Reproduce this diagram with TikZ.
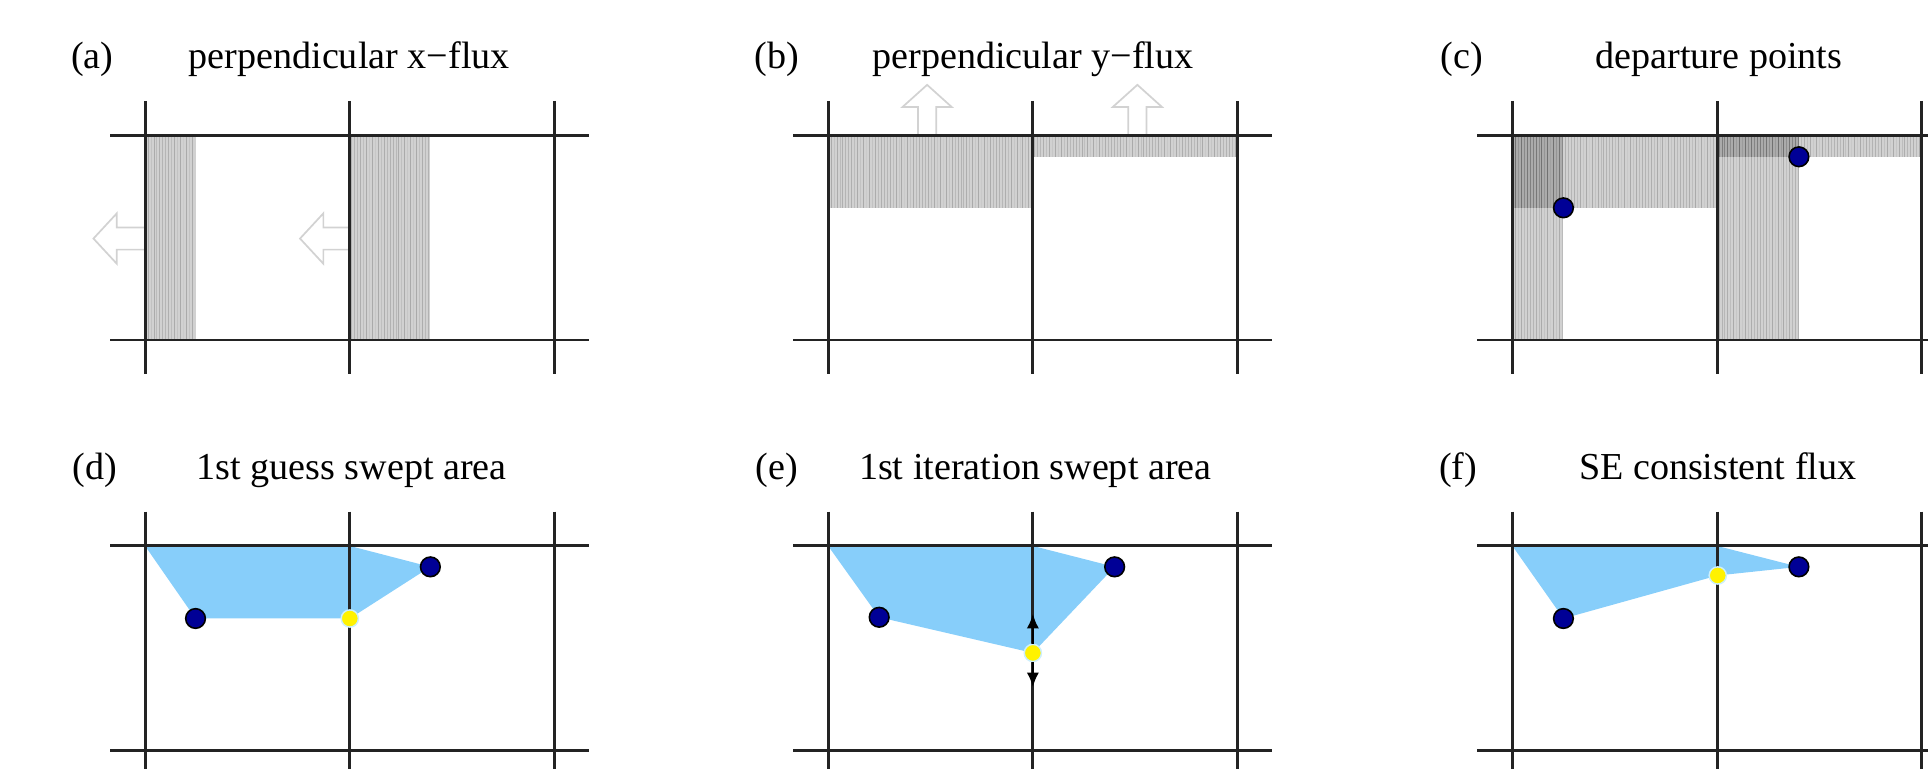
\documentclass[tikz,border=0pt]{standalone}
\usepackage{fontspec}
\setmainfont{Liberation Serif}
\usetikzlibrary{arrows.meta}
\definecolor{sweep}{RGB}{135,206,250}
\definecolor{dotblue}{RGB}{0,0,150}
\definecolor{gridc}{RGB}{35,35,35}
\tikzset{
 gridline/.style={draw=gridc, line width=2.4pt},
 lbl/.style={font=\fontsize{31}{36}\selectfont, anchor=base, inner sep=0pt},
 navydot/.style={circle, fill=dotblue, draw=black, line width=1.3pt, minimum size=16pt, inner sep=0pt},
 yeldot/.style={circle, fill=yellow, draw=cyan!20, line width=1.2pt, minimum size=14pt, inner sep=0pt},
 hollow/.style={draw=gray!35, fill=white, line width=1.4pt, line join=miter},
 sweptarea/.style={fill=sweep},
 flowarrow/.style={-{Latex[length=12pt,width=10pt]}, line width=2.2pt, draw=black},
}
\newcommand\gridcells{%
 \foreach \gx in {0,166.5,333} \draw[gridline] (\gx,-28) -- (\gx,194);
 \foreach \gy in {0,166.5} \draw[gridline] (-28.5,\gy) -- (361,\gy);
}
\newcommand\shadebox[4]{%
 \begin{scope}
 \clip (#1,#2) rectangle (#3,#4);
 \fill[black,opacity=0.18] (#1,#2) rectangle (#3,#4);
 \foreach \i in {0,...,140}{
   \pgfmathsetmacro\op{0.03+0.16*abs(sin(\i*97))}
   \draw[black,opacity=\op,line width=0.7pt] (\i*2.4,#2) -- (\i*2.4,#4);
 }
 \end{scope}}
\begin{document}
\begin{tikzpicture}[x=1pt,y=-1pt]
\useasboundingbox (0,0) rectangle (1568,625);
\clip (0,0) rectangle (1568,625);
% titles
\node[lbl] (la) at (75,56) {(a)};
\node[lbl] (ta) at (284,56) {perpendicular x−flux};
\node[lbl] (lb) at (632,56) {(b)};
\node[lbl] (tb) at (840,56) {perpendicular y−flux};
\node[lbl] (lc) at (1189,56) {(c)};
\node[lbl] (tc) at (1398,56) {departure points};
\node[lbl] (ld) at (77,390) {(d)};
\node[lbl] (td) at (286,390) {1st guess swept area};
\node[lbl] (le) at (632,390) {(e)};
\node[lbl] (te) at (842,390) {1st iteration swept area};
\node[lbl] (lf) at (1186,390) {(f)};
\node[lbl] (tf) at (1397,390) {SE consistent flux};
% (a)
\begin{scope}[shift={(118,110)}]
 \shadebox{0}{0}{41}{166.5}
 \shadebox{167.5}{0}{232}{166.5}
 \draw[hollow] (-42,84) -- (-23,63.5) -- (-23,75) -- (0,75) -- (0,93) -- (-23,93) -- (-23,104.5) -- cycle;
 \draw[hollow] (126,84) -- (145,63.5) -- (145,75) -- (166.5,75) -- (166.5,93) -- (145,93) -- (145,104.5) -- cycle;
 \gridcells
\end{scope}
% (b)
\begin{scope}[shift={(673.5,110)}]
 \shadebox{0}{0}{166.5}{59}
 \shadebox{166.5}{0}{333}{17.5}
 \draw[hollow] (80.5,-41) -- (100.5,-23) -- (88,-23) -- (88,0) -- (73,0) -- (73,-23) -- (60.5,-23) -- cycle;
 \draw[hollow] (251.5,-41) -- (271.5,-23) -- (259,-23) -- (259,0) -- (244,0) -- (244,-23) -- (231.5,-23) -- cycle;
 \gridcells
\end{scope}
% (c)
\begin{scope}[shift={(1230,110)}]
 \shadebox{0}{0}{167}{59}
 \shadebox{0}{0}{41.5}{166.5}
 \shadebox{166.5}{0}{333}{18}
 \shadebox{166.5}{0}{233}{166.5}
 \gridcells
 \node[navydot] (c1) at (41.5,59) {};
 \node[navydot] (c2) at (233,17.5) {};
\end{scope}
% (d)
\begin{scope}[shift={(118,444)}]
 \coordinate (dA) at (41,59);
 \coordinate (dB) at (232,17);
 \coordinate (dY) at (166.5,59);
 \fill[sweptarea] (0,0) -- (166.5,0) -- (dB) -- (dY) -- (dA) -- cycle;
 \gridcells
 \node[navydot] (d1) at (dA) {};
 \node[navydot] (d2) at (dB) {};
 \node[yeldot] (d3) at (dY) {};
\end{scope}
% (e)
\begin{scope}[shift={(673.5,444)}]
 \coordinate (eA) at (41.5,58);
 \coordinate (eB) at (233,17);
 \coordinate (eY) at (166.5,87);
 \coordinate (eUp) at (166.5,55);
 \coordinate (eDn) at (166.5,115);
 \fill[sweptarea] (0,0) -- (166.5,0) -- (eB) -- (eY) -- (eA) -- cycle;
 \gridcells
 \node[navydot] (e1) at (eA) {};
 \node[navydot] (e2) at (eB) {};
 \node[yeldot] (e3) at (eY) {};
 \draw[flowarrow] (e3) -- (eUp);
 \draw[flowarrow] (e3) -- (eDn);
\end{scope}
% (f)
\begin{scope}[shift={(1230,444)}]
 \coordinate (fA) at (41.5,59);
 \coordinate (fB) at (233,17);
 \coordinate (fY) at (167,24);
 \fill[sweptarea] (0,0) -- (166.5,0) -- (fB) -- (fY) -- (fA) -- cycle;
 \gridcells
 \node[navydot] (f1) at (fA) {};
 \node[navydot] (f2) at (fB) {};
 \node[yeldot] (f3) at (fY) {};
\end{scope}
\end{tikzpicture}
\end{document}
